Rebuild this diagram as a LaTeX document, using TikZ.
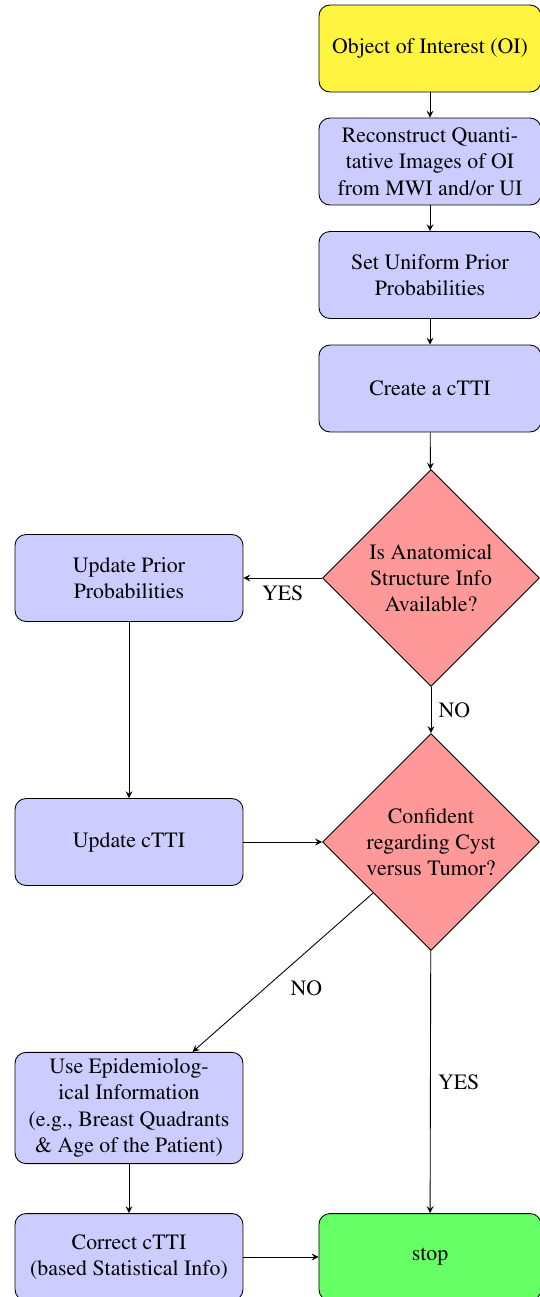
\documentclass[tikz,border=0pt]{standalone}
\usepackage[T1]{fontenc}
\usepackage{times}
\usetikzlibrary{shapes.geometric}
\tikzset{
  block/.style={rectangle,draw,rounded corners=5pt,fill=blue!20,align=center,
    minimum width=101.7pt,minimum height=39.8pt,inner sep=3pt},
  lblock/.style={block,minimum width=104.4pt},
  decision/.style={diamond,draw,fill=red!40,align=center,aspect=1,
    minimum width=99.4pt,minimum height=99.4pt,inner sep=0pt},
  >=stealth
}

\begin{document}
\begin{tikzpicture}[x=.458pt,y=-.458pt]
\useasboundingbox (0,0) rectangle (540,1297);
% right column
\node[block,fill=yellow!75] (oi) at (430,48.5){Object of Interest (OI)};
\node[block] (rec) at (430,161.5){Reconstruct Quanti-\\tative Images of OI\\from MWI and/or UI};
\node[block] (prior) at (430,275){Set Uniform Prior\\Probabilities};
\node[block] (ctti) at (430,388.5){Create a cTTI};
\node[decision] (anat) at (431,578){Is Anatomical\\Structure Info\\Available?};
\node[decision] (conf) at (431,842){Confident\\regarding Cyst\\versus Tumor?};
\node[block,fill=green!60] (stop) at (430,1257){stop};
% left column
\node[lblock] (upd) at (129,578){Update Prior\\Probabilities};
\node[lblock] (updc) at (129,842){Update cTTI};
\node[lblock] (epi) at (129,1108){Use Epidemiolog-\\ical Information\\(e.g., Breast Quadrants\\\& Age of the Patient)};
\node[lblock] (corr) at (129,1257){Correct cTTI\\(based Statistical Info)};
% connectors
\draw[->] (oi) -- (rec);
\draw[->] (rec) -- (prior);
\draw[->] (prior) -- (ctti);
\draw[->] (ctti) -- (anat);
\draw[->] (anat) -- node[below]{YES} (upd);
\draw[->] (anat) -- node[right]{NO} (conf);
\draw[->] (upd) -- (updc);
\draw[->] (updc) -- (conf);
\draw[->] (conf) -- node[below right]{NO} (epi);
\draw[->] (conf) -- node[right]{YES} (stop);
\draw[->] (epi) -- (corr);
\draw[->] (corr) -- (stop);
\end{tikzpicture}
\end{document}
